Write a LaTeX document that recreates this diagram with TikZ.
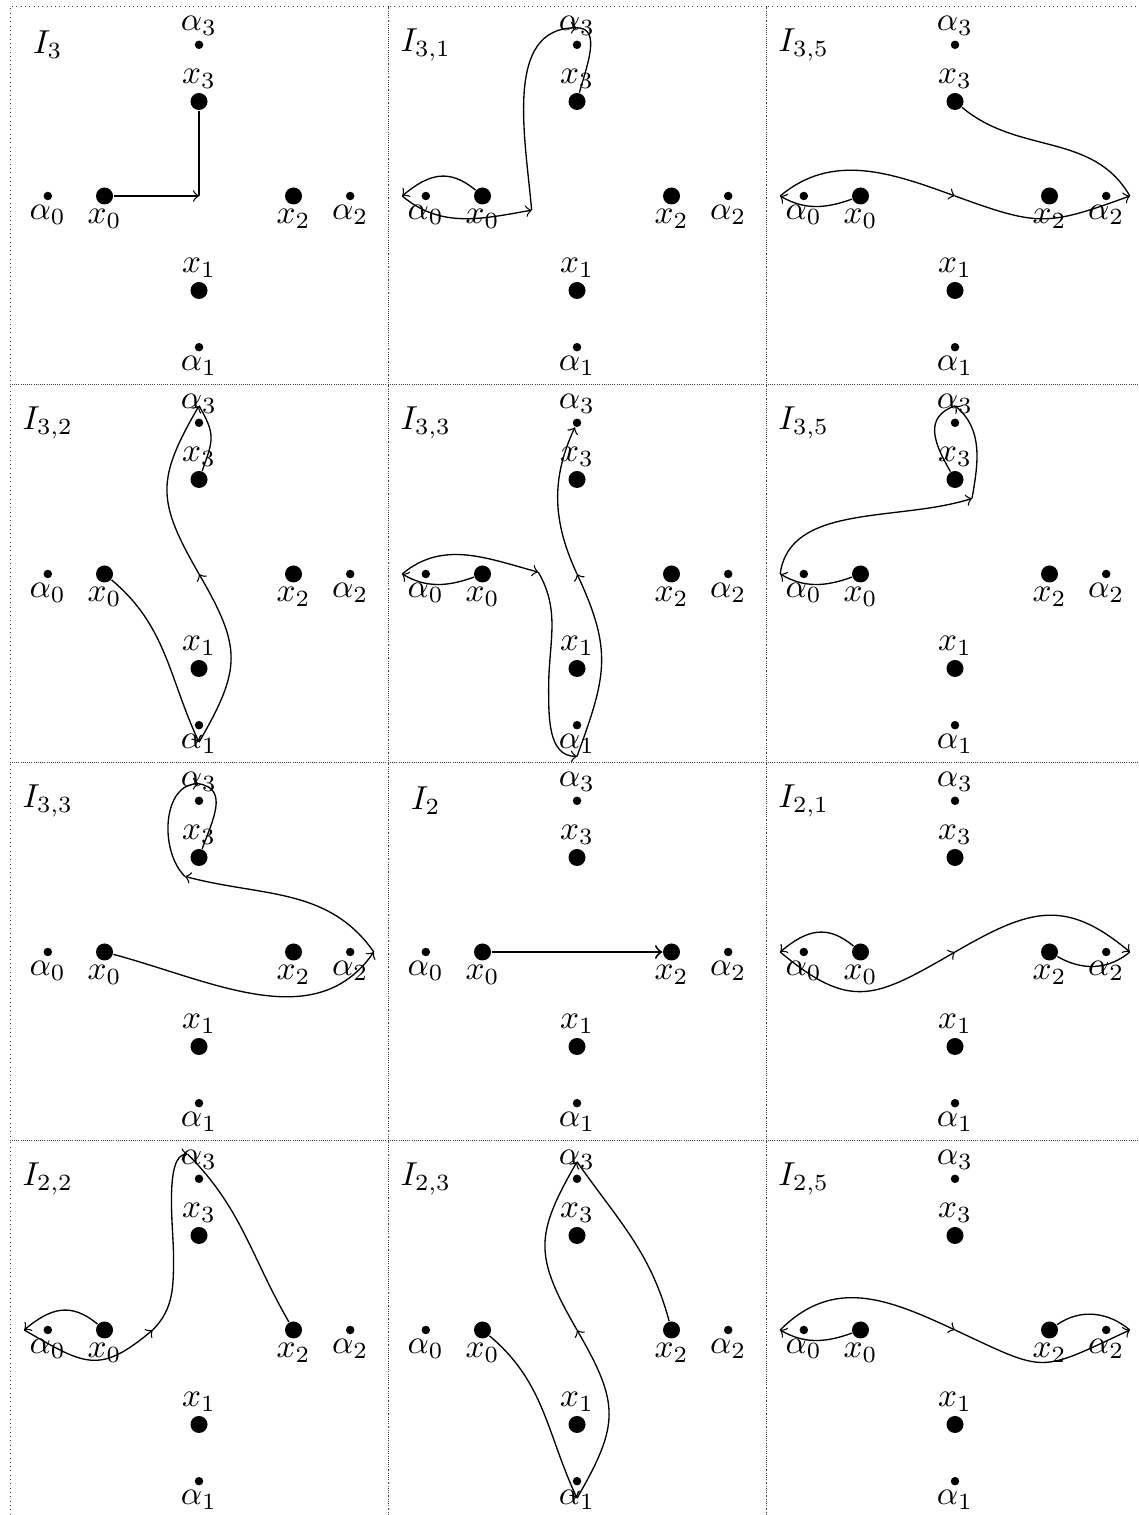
\documentclass[tikz,border=0pt]{standalone}

\def\feld#1{
	\draw[rahmen] (-2,-2) rectangle (2,2);
	\node (titel) at (-1.6,1.6) {$#1$};
	\node[klein,label={below:$\alpha_0$}] (a0) at (-1.6,0) {};
	\node[gross,label={below:$x_0$}] (x0) at (-1,0) {};
	\node[gross,label={below:$x_2$}] (x2) at (1,0) {};
	\node[klein,label={below:$\alpha_2$}] (a2) at (1.6,0) {};
	\node[gross,label={above:$x_3$}] (x3) at (0,1) {};
	\node[klein,label={above:$\alpha_3$}] (a3) at (0,1.6) {};
	\node[gross,label={above:$x_1$}] (x1) at (0,-1) {};
	\node[klein,label={below:$\alpha_1$}] (a1) at (0,-1.6) {};
	\coordinate (m) at (0,0);
	\coordinate (l) at (-1.85,0);
	\coordinate (r) at (1.85,0);
	\coordinate (o) at (0,1.78);
	\coordinate (u) at (0,-1.78);
}

\begin{document}
\begin{tikzpicture}[>=to,
	gross/.style={circle,fill,inner sep=0pt,minimum size=1.8mm},
	klein/.style={circle,fill,inner sep=0pt,minimum size=0.9mm},
	rahmen/.style={densely dotted,line width=0.3pt,black!75},
	every label/.style={inner sep=1pt}]
\useasboundingbox (-2.106,-13.958) rectangle (9.947,2.074);
\begin{scope}
\feld{I_3}
\draw[->] (x0) -- (m);
\draw (m) -- (x3);
\end{scope}
\begin{scope}[shift={(4,0)}]
\feld{I_{3,1}}
\coordinate (k) at (-0.48,-0.15);
\draw[->] (x0) to[out=140,in=40,looseness=1.2] (l);
\draw[->] (l) to[out=-40,in=190] (k);
\draw[->] (k) to[out=95,in=180] (o);
\draw (o) to[out=0,in=75] (x3);
\end{scope}
\begin{scope}[shift={(8,0)}]
\feld{I_{3,5}}
\draw[->] (x0) to[out=200,in=-30] (l);
\draw[->] (l) to[out=40,in=160] (m);
\draw[->] (m) to[out=-20,in=200,looseness=1.3] (r);
\draw (r) to[out=120,in=-40] (x3);
\end{scope}
\begin{scope}[shift={(0,-4)}]
\feld{I_{3,2}}
\draw[->] (x0) to[out=-40,in=115] (u);
\draw[->] (u) to[out=60,in=-60,looseness=1.3] (m);
\draw[->] (m) to[out=120,in=240,looseness=1.3] (o);
\draw (o) to[out=-60,in=70,looseness=1.3] (x3);
\end{scope}
\begin{scope}[shift={(4,-4)}]
\feld{I_{3,3}}
\coordinate (k) at (-0.41,0.02);
\coordinate (w) at (-0.3,-1.2);
\coordinate (v) at (0,-1.93);
\draw[->] (x0) to[out=200,in=-30] (l);
\draw[->] (l) to[out=40,in=165] (k);
\draw[->] (k) to[out=-60,in=90] (w) to[out=-90,in=180] (v);
\draw[->] (v) to[out=70,in=-65,looseness=1.2] (m);
\draw[->] (m) to[out=115,in=-115] (a3);
\end{scope}
\begin{scope}[shift={(8,-4)}]
\feld{I_{3,5}}
\coordinate (k) at (0.18,0.8);
\draw[->] (x0) to[out=200,in=-30] (l);
\draw[->] (l) .. controls (-1.75,0.75) and (-0.6,0.55) .. (k);
\draw[->] (k) to[out=80,in=-40] (o);
\draw (o) to[out=200,in=120,looseness=1.3] (x3);
\end{scope}
\begin{scope}[shift={(0,-8)}]
\feld{I_{3,3}}
\coordinate (k) at (-0.15,0.8);
\draw[->] (x0) to[out=-15,in=235] (r);
\draw[->] (r) to[out=125,in=-15] (k);
\draw[->] (k) to[out=135,in=180] (o);
\draw (o) to[out=-10,in=70,looseness=1.2] (x3);
\end{scope}
\begin{scope}[shift={(4,-8)}]
\feld{I_2}
\draw[->,semithick] (x0) -- (x2);
\end{scope}
\begin{scope}[shift={(8,-8)}]
\feld{I_{2,1}}
\draw[->] (x0) to[out=140,in=40,looseness=1.2] (l);
\draw[->] (l) to[out=-40,in=210,looseness=1.35] (m);
\draw[->] (m) to[out=30,in=140,looseness=1.25] (r);
\draw (r) to[out=-140,in=-30] (x2);
\end{scope}
\begin{scope}[shift={(0,-12)}]
\feld{I_{2,2}}
\coordinate (k) at (-0.49,0);
\coordinate (w) at (-0.27,0.8);
\coordinate (t) at (-0.12,1.86);
\draw[->] (x0) to[out=140,in=40,looseness=1.2] (l);
\draw[->] (l) to[out=-30,in=220,looseness=1.4] (k);
\draw[->] (k) to[out=45,in=-90] (w) to[out=90,in=180,looseness=0.6] (t);
\draw (t) to[out=-45,in=120] (x2);
\end{scope}
\begin{scope}[shift={(4,-12)}]
\feld{I_{2,3}}
\draw[->] (x0) to[out=-40,in=115] (u);
\draw[->] (u) to[out=60,in=-60,looseness=1.3] (m);
\draw[->] (m) to[out=120,in=240,looseness=1.3] (o);
\draw (o) to[out=-55,in=105] (x2);
\end{scope}
\begin{scope}[shift={(8,-12)}]
\feld{I_{2,5}}
\draw[->] (x0) to[out=200,in=-30] (l);
\draw[->] (l) to[out=45,in=155,looseness=1.1] (m);
\draw[->] (m) to[out=-25,in=205,looseness=1.5] (r);
\draw (r) to[out=140,in=35] (x2);
\end{scope}
\end{tikzpicture}
\end{document}
